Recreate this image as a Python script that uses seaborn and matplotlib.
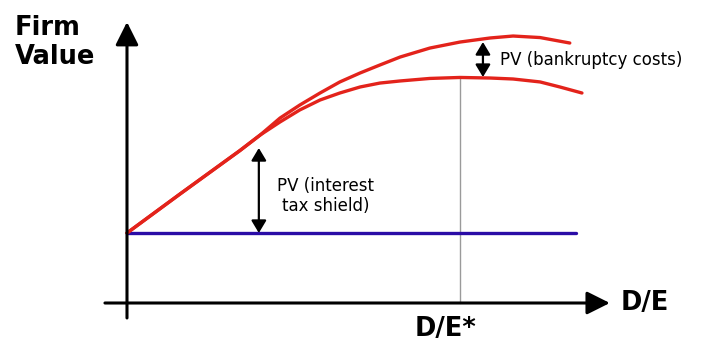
import numpy as np
import pandas as pd
import matplotlib
matplotlib.use("Agg")
import matplotlib.pyplot as plt
import seaborn as sns

# Firm value vs leverage (trade-off theory sketch)
de_shield = [0, 1.18, 2.51, 2.96, 3.4, 3.84, 4.29, 4.73, 5.18, 5.62, 6.07, 6.73, 7.4, 8.07, 8.58, 9.18, 9.84]
v_shield = [5.0, 7.79, 10.89, 12.0, 13.21, 14.14, 15.0, 15.79, 16.43, 17.0, 17.57, 18.21, 18.64, 18.93, 19.07, 18.96, 18.57]

de_levered = [0, 1.18, 2.51, 2.96, 3.4, 3.84, 4.29, 4.73, 5.18, 5.62, 6.07, 6.73, 7.4, 8.07, 8.58, 9.18, 9.62, 10.11]
v_levered = [5.0, 7.79, 10.89, 12.0, 12.93, 13.79, 14.5, 15.0, 15.43, 15.71, 15.86, 16.04, 16.11, 16.07, 16.0, 15.79, 15.43, 15.0]

de_unlevered = [0, 9.98]
v_unlevered = [5.0, 5.0]

de_star = 7.4
v_star = 16.11
shield_gap_de = 2.93
bankruptcy_gap_de = 7.91
bankruptcy_top = 18.64
bankruptcy_bottom = 16.14
shield_top = 11.07

sns.set_theme(style="white")
plt.rcParams["font.family"] = ["DejaVu Sans"]
plt.rcParams["text.color"] = "black"

fig = plt.figure(figsize=(7.11, 3.43), dpi=100)
ax = fig.add_axes([0, 0, 1, 1])
ax.set_xlim(-2.822, 12.978)
ax.set_ylim(-2.857, 21.643)
ax.axis("off")

red = "#e3231b"
blue = "#2a0ca6"

sns.lineplot(x=de_unlevered, y=v_unlevered, ax=ax, color=blue, lw=2.4, sort=False, estimator=None)
sns.lineplot(x=de_shield, y=v_shield, ax=ax, color=red, lw=2.4, sort=False, estimator=None)
sns.lineplot(x=de_levered, y=v_levered, ax=ax, color=red, lw=2.4, sort=False, estimator=None)

# optimal leverage marker
ax.plot([de_star, de_star], [0, v_star], color="#9a9a9a", lw=1.0, zorder=1)

# axes with arrows
axis_arrow = dict(arrowstyle="-|>,head_length=1.4,head_width=0.7", lw=2.2, color="black",
                  shrinkA=0, shrinkB=0, mutation_scale=10)
ax.annotate("", xy=(0, 20.07), xytext=(0, -1.07), arrowprops=axis_arrow)
ax.annotate("", xy=(10.73, 0), xytext=(-0.49, 0), arrowprops=axis_arrow)

# double-headed gap arrows
gap_arrow = dict(arrowstyle="<|-|>,head_length=0.75,head_width=0.45", lw=1.6, color="black",
                 shrinkA=0, shrinkB=0, mutation_scale=10)
ax.annotate("", xy=(bankruptcy_gap_de, bankruptcy_top), xytext=(bankruptcy_gap_de, bankruptcy_bottom),
            arrowprops=gap_arrow)
ax.annotate("", xy=(shield_gap_de, shield_top), xytext=(shield_gap_de, v_unlevered[0]),
            arrowprops=gap_arrow)

ax.text(8.29, 17.36, "PV (bankruptcy costs)", fontsize=12, ha="left", va="center", color="black")
ax.text(4.42, 7.64, "PV (interest\ntax shield)", fontsize=12, ha="center", va="center",
        multialignment="center", color="black", linespacing=1.1)

ax.text(-2.49, 18.64, "Firm\nValue", fontsize=18.5, fontweight="bold", ha="left", va="center",
        linespacing=1.15, color="black")
ax.text(10.96, 0, "D/E", fontsize=18.5, fontweight="bold", ha="left", va="center", color="black")
ax.text(6.4, -1.86, "D/E*", fontsize=18.5, fontweight="bold", ha="left", va="center", color="black")

fig.savefig("out.png", dpi=100)
